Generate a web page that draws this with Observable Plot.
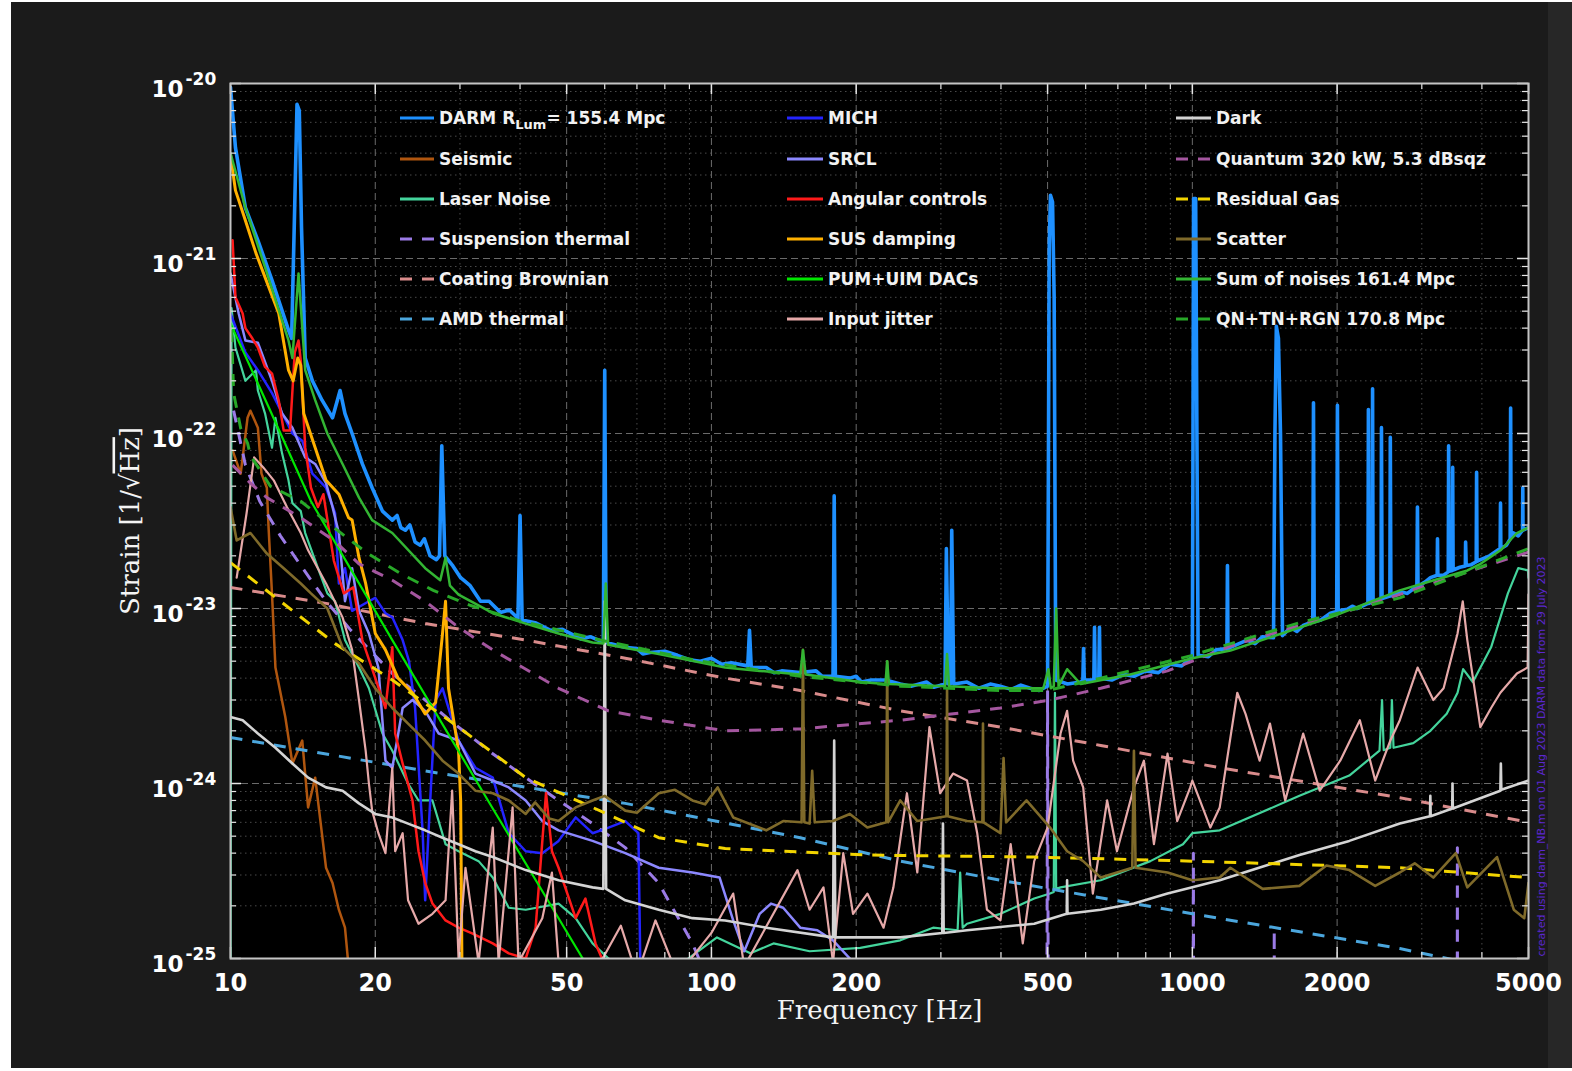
<!DOCTYPE html>
<html>
<head>
<meta charset="utf-8">
<script src="https://cdn.jsdelivr.net/npm/d3@7"></script>
<script src="https://cdn.jsdelivr.net/npm/@observablehq/plot@0.6"></script>
<style>
html,body{margin:0;padding:0;background:#ffffff;overflow:hidden;}
#wrap{position:relative;width:1572px;height:1071px;overflow:hidden;}
#bg{position:absolute;left:11px;top:2px;width:1537px;height:1066px;background:#1b1b1b;}
#bg2{position:absolute;left:1548px;top:2px;width:24px;height:1066px;background:#272727;}
#chart{position:absolute;left:0;top:0;}
</style>
</head>
<body>
<div id="wrap"><div id="bg"></div><div id="bg2"></div><div id="chart"></div></div>
<script>
// ---------------- DATA (frequency [Hz], strain [1/sqrt(Hz)]) ----------------
const darm = [[10,9.5e-21],[10.24,4.3e-21],[10.74,1.95e-21],[11.4,1.27e-21],[12.2,7.5e-22],[13.2,3.9e-22],[13.4,3.5e-22],[13.6,2.0e-21],[13.75,7.6e-21],[13.9,7.0e-21],[14.05,1.5e-21],[14.3,2.7e-22],[14.8,2.0e-22],[15.5,1.55e-22],[16.3,1.23e-22],[16.9,1.76e-22],[17.3,1.3e-22],[17.9,1.0e-22],[18.8,6.7e-23],[19.7,4.9e-23],[20.7,3.6e-23],[21.7,3.2e-23],[22.2,3.4e-23],[22.6,2.9e-23],[23.1,2.8e-23],[23.6,3.0e-23],[24.2,2.4e-23],[24.8,2.3e-23],[25.3,2.5e-23],[26,2.0e-23],[26.8,1.9e-23],[27.2,2.0e-23],[27.5,8.5e-23],[27.9,2.0e-23],[29,1.75e-23],[30.1,1.5e-23],[31.5,1.35e-23],[33.1,1.1e-23],[34.5,1.1e-23],[36.4,9.5e-24],[38,9.8e-24],[39.6,8.8e-24],[40,3.4e-23],[40.4,8.6e-24],[43,8.3e-24],[46.3,7.5e-24],[49,7.6e-24],[53.5,6.7e-24],[56,6.9e-24],[59.6,6.4e-24],[60,2.3e-22],[60.4,6.4e-24],[66,6.0e-24],[70,5.9e-24],[72,5.5e-24],[74.5,5.6e-24],[80,5.7e-24],[85,5.4e-24],[90,5.1e-24],[94.8,5.0e-24],[100,5.2e-24],[105,4.8e-24],[110,4.9e-24],[119,4.7e-24],[120,7.5e-24],[121,4.6e-24],[130,4.6e-24],[135,4.3e-24],[140,4.4e-24],[153,4.3e-24],[165,4.4e-24],[170,4.1e-24],[179,4.1e-24],[180,4.4e-23],[181,4.1e-24],[194,4.0e-24],[200,4.1e-24],[205,3.8e-24],[215,3.9e-24],[230,3.9e-24],[247,3.7e-24],[260,3.6e-24],[280,3.8e-24],[290,3.55e-24],[306,3.7e-24],[308,2.2e-23],[311,3.7e-24],[314,3.7e-24],[316,2.8e-23],[319,3.7e-24],[340,3.8e-24],[360,3.5e-24],[380,3.7e-24],[399,3.6e-24],[420,3.45e-24],[440,3.65e-24],[460,3.5e-24],[480,3.4e-24],[500,3.6e-24],[504,1.2e-21],[507,2.3e-21],[512,2.1e-21],[516,6e-22],[520,3.9e-24],[550,3.7e-24],[586,3.8e-24],[592,3.9e-24],[594,5.9e-24],[596,3.9e-24],[624,3.9e-24],[626,7.8e-24],[628,3.9e-24],[639,4.0e-24],[641,7.8e-24],[643,4.0e-24],[680,3.9e-24],[720,4.2e-24],[756,4.1e-24],[800,4.4e-24],[850,4.3e-24],[900,4.8e-24],[950,4.7e-24],[1000,5.3e-24],[1003,8e-23],[1006,2.2e-21],[1016,2.2e-21],[1022,1e-22],[1028,5.4e-24],[1080,5.3e-24],[1120,5.8e-24],[1180,5.9e-24],[1183,1.76e-23],[1186,5.9e-24],[1200,6.0e-24],[1300,6.6e-24],[1350,6.3e-24],[1400,6.9e-24],[1475,6.8e-24],[1485,1e-22],[1495,4.1e-22],[1510,3.5e-22],[1525,1e-22],[1540,7.0e-24],[1600,7.8e-24],[1650,7.4e-24],[1700,8.0e-24],[1780,8.4e-24],[1786,1.5e-22],[1792,8.4e-24],[1850,8.6e-24],[1936,9.4e-24],[1996,9.6e-24],[2003,1.45e-22],[2010,9.7e-24],[2100,9.9e-24],[2150,1.03e-23],[2200,1.0e-23],[2318,1.07e-23],[2323,1.37e-22],[2330,1.07e-23],[2365,1.09e-23],[2370,1.8e-22],[2376,1.1e-23],[2468,1.13e-23],[2473,1.08e-22],[2480,1.14e-23],[2575,1.18e-23],[2580,9.5e-23],[2587,1.18e-23],[2700,1.25e-23],[2800,1.22e-23],[2930,1.34e-23],[2938,3.8e-23],[2946,1.34e-23],[3050,1.42e-23],[3126,1.5e-23],[3229,1.55e-23],[3234,2.5e-23],[3240,1.55e-23],[3330,1.55e-23],[3405,1.62e-23],[3411,8.5e-23],[3418,1.63e-23],[3472,1.65e-23],[3478,6.4e-23],[3485,1.66e-23],[3600,1.72e-23],[3695,1.75e-23],[3700,2.4e-23],[3710,1.76e-23],[3800,1.78e-23],[3893,1.85e-23],[3900,6.0e-23],[3907,1.86e-23],[3975,1.9e-23],[4150,2.0e-23],[4365,2.2e-23],[4373,4.0e-23],[4380,2.2e-23],[4500,2.3e-23],[4580,2.5e-23],[4590,1.4e-22],[4600,2.55e-23],[4655,2.7e-23],[4760,2.6e-23],[4860,2.8e-23],[4865,4.9e-23],[4870,2.8e-23],[5000,2.9e-23]];

const seismic = [[10.1,8.0e-23],[10.5,5.9e-23],[10.85,1.23e-22],[11.0,1.35e-22],[11.4,1.08e-22],[11.6,5.9e-23],[11.9,4.9e-23],[12.0,2.9e-23],[12.2,1.2e-23],[12.4,4.6e-24],[13.0,2.4e-24],[13.45,1.3e-24],[14.1,1.76e-24],[14.5,7.3e-25],[15.0,1.08e-24],[15.8,3.3e-25],[16.3,2.7e-25],[16.8,1.9e-25],[17.3,1.5e-25],[17.6,9e-26]];

const laser = [[10,5e-26],[10.05,5.2e-22],[10.24,3.1e-22],[10.74,2.0e-22],[11.3,2.3e-22],[11.4,1.76e-22],[11.8,1.3e-22],[12.2,8.3e-23],[12.4,1.23e-22],[12.8,7.7e-23],[13.2,5.4e-23],[13.45,4.0e-23],[14.0,3.6e-23],[14.3,2.7e-23],[15.2,1.7e-23],[15.9,1.22e-23],[16.5,1.1e-23],[17.3,6.6e-24],[18.5,4.6e-24],[19.4,3.5e-24],[20.7,1.93e-24],[21.7,1.54e-24],[23.4,1.0e-24],[24.6,8.0e-25],[26.3,8.0e-25],[28.0,4.5e-25],[29.8,4.1e-25],[32.8,3.6e-25],[35.1,2.9e-25],[37.9,1.95e-25],[41.1,1.9e-25],[48.1,2.06e-25],[52.2,1.7e-25],[56.6,1.22e-25],[61.1,1.0e-25],[71.3,8.5e-26],[85,9e-26],[102.7,1.32e-25],[120.5,1.07e-25],[134.6,1.22e-25],[160,1.1e-25],[204,1.15e-25],[247,1.27e-25],[289,1.5e-25],[325,1.45e-25],[329,3.1e-25],[333,1.5e-25],[340,1.58e-25],[399,1.8e-25],[469,2.2e-25],[506,2.35e-25],[515,2.4e-25],[518,3.3e-24],[521,2.5e-25],[532,2.55e-25],[645,2.8e-25],[818,3.6e-25],[956,4.5e-25],[1000,5.2e-25],[1140,5.4e-25],[1670,8.5e-25],[2120,1.11e-24],[2450,1.54e-24],[2480,3.0e-24],[2500,1.55e-24],[2580,1.6e-24],[2600,3.0e-24],[2620,1.6e-24],[2880,1.7e-24],[3126,2.0e-24],[3380,2.5e-24],[3560,3.3e-24],[3656,4.5e-24],[3830,3.8e-24],[4180,6.0e-24],[4530,1.22e-23],[4760,1.7e-23],[4990,1.65e-23],[5000,1.5e-23]];

const suspThermal = [[10.15,1.35e-22],[10.74,6.6e-23],[11.5,4.1e-23],[12.7,2.6e-23],[14.0,1.76e-23],[15.8,1.1e-23],[17.8,7.5e-24],[21.7,4.25e-24],[25.4,3.0e-24],[29.8,2.1e-24],[35.1,1.48e-24],[41.1,1.08e-24],[48.1,8.0e-25],[56.6,5.9e-25],[66.2,4.3e-25],[77.7,2.7e-25],[91.3,1.22e-25],[99.5,7e-26],[110,1e-27],[497,1e-27],[500,3.4e-24],[503,1e-27],[1002,1e-27],[1005,4.0e-25],[1008,1e-27],[1477,1e-27],[1480,1.45e-25],[1483,1e-27],[3552,1e-27],[3557,4.3e-25],[3562,1e-27],[5000,1e-27]];

const coating = [[10,1.32e-23],[15.8,1.07e-23],[25.4,8.2e-24],[41.1,6.6e-24],[66.2,5.2e-24],[106.8,4.0e-24],[153,3.4e-24],[247,2.6e-24],[399,2.1e-24],[645,1.65e-24],[1140,1.23e-24],[2700,8.3e-25],[5000,6.0e-25]];

const amdThermal = [[10,1.83e-24],[25.4,1.18e-24],[66.2,7.7e-25],[153,4.9e-25],[247,3.6e-25],[399,2.8e-25],[1000,1.8e-25],[2700,1.14e-25],[5000,8e-26]];

const mich = [[10,4.85e-22],[10.74,2.9e-22],[11.4,2.3e-22],[12.2,1.7e-22],[13.45,1.0e-22],[14.1,9.1e-23],[14.8,5.9e-23],[15.8,4.9e-23],[16.5,3.5e-23],[16.8,1.39e-23],[17.3,1.7e-23],[17.9,9.7e-24],[19.4,1.1e-23],[20.0,1.15e-23],[21.0,9.4e-24],[21.7,8.9e-24],[22.8,6.6e-24],[23.5,5.0e-24],[24.2,2.7e-24],[25.1,5.2e-25],[25.4,2.15e-25],[25.8,5.2e-25],[26.7,3.0e-24],[27.6,3.5e-24],[28.9,2.3e-24],[29.8,1.76e-24],[32.3,1.23e-24],[35.1,1.08e-24],[37.9,5.2e-25],[41.1,4.1e-25],[44.5,4.0e-25],[48.1,4.7e-25],[52.2,6.4e-25],[56.6,5.2e-25],[61.1,5.6e-25],[66.2,6.1e-25],[70.5,5.2e-25],[71.3,6e-26]];

const srcl = [[10,8.2e-22],[10.4,4.85e-22],[10.74,3.4e-22],[11.4,3.3e-22],[12.2,2.0e-22],[12.8,1.3e-22],[13.45,1.08e-22],[14.3,7.3e-23],[15.0,6.7e-23],[15.8,5.2e-23],[16.3,3.8e-23],[16.8,2.7e-23],[17.3,1.1e-23],[17.9,1.7e-23],[18.5,9.7e-24],[19.4,7.2e-24],[20.3,4.6e-24],[21.0,1.35e-24],[21.7,1.23e-24],[22.8,2.7e-24],[23.9,3.0e-24],[25.4,2.6e-24],[27.1,1.93e-24],[29.8,1.76e-24],[32.3,1.14e-24],[35.1,1.04e-24],[37.9,9.5e-25],[41.1,8.0e-25],[44.5,6.1e-25],[48.1,5.4e-25],[56.6,4.7e-25],[66.2,4.0e-25],[77.7,3.3e-25],[91.3,3.1e-25],[104,2.9e-25],[111,1.65e-25],[117,1.1e-25],[126,1.8e-25],[133,2.06e-25],[141,1.95e-25],[153,1.5e-25],[166,1.45e-25],[179,1.27e-25],[194,1.0e-25],[214,8e-26]];

const angular = [[10.1,1.27e-21],[10.24,6.0e-22],[10.6,4.85e-22],[10.74,4.0e-22],[11.1,3.5e-22],[11.4,3.1e-22],[11.8,2.4e-22],[12.2,2.2e-22],[12.6,1.54e-22],[12.9,1.04e-22],[13.3,1.04e-22],[13.6,2.9e-22],[13.85,3.4e-22],[14.0,2.6e-22],[14.3,8.3e-23],[14.7,4.9e-23],[15.2,3.8e-23],[15.6,4.5e-23],[16.4,1.88e-23],[17.2,1.22e-23],[18.0,1.32e-23],[18.8,6.6e-24],[20.0,4.0e-24],[21.0,2.7e-24],[21.7,6.0e-24],[22.0,1.93e-24],[22.8,1.3e-24],[23.9,8.0e-25],[24.6,4.1e-25],[25.4,2.7e-25],[26.3,2.06e-25],[28.0,1.65e-25],[29.8,1.5e-25],[31.8,1.39e-25],[35.1,1.22e-25],[37.9,1.07e-25],[41.1,1.0e-25],[43.1,1.5e-25],[45.3,8.8e-25],[46.6,4.1e-25],[48.1,3.3e-25],[52.2,1.7e-25],[54.7,2.2e-25],[57.4,1.22e-25],[60.2,9e-26]];

const susDamping = [[10,3.9e-21],[10.24,2.45e-21],[10.74,1.65e-21],[11.3,1.07e-21],[11.8,7.8e-22],[12.6,4.85e-22],[13.2,2.3e-22],[13.5,2.0e-22],[13.8,2.7e-22],[14.0,2.45e-22],[14.2,1.3e-22],[15.0,8.3e-23],[15.8,5.4e-23],[16.8,4.5e-23],[17.6,3.3e-23],[17.9,3.2e-23],[18.5,1.95e-23],[19.1,1.39e-23],[20.0,7.2e-24],[21.0,5.8e-24],[22.3,4.0e-24],[23.9,3.3e-24],[25.4,2.5e-24],[26.7,2.9e-24],[27.6,7.2e-24],[28.0,1.1e-23],[28.4,3.5e-24],[29.8,1.54e-24],[30.1,8e-25],[30.3,8e-26]];

const pumUim = [[10,4.25e-22],[12.1,1.35e-22],[14.7,4.1e-23],[21.7,6.6e-24],[35.1,7.2e-25],[54.0,1.0e-25],[64.8,4.5e-26]];

const inputJitter = [[10.3,1.5e-23],[10.8,3.5e-23],[11.2,7.3e-23],[11.7,6.4e-23],[12.3,5.4e-23],[13.1,3.8e-23],[14.0,2.7e-23],[14.5,2.15e-23],[15.8,1.39e-23],[17.1,8.9e-24],[17.9,5.8e-24],[18.5,3.0e-24],[19.1,1.54e-24],[19.4,1.0e-24],[19.7,7.0e-25],[20.3,5.2e-25],[21.0,4.0e-25],[21.7,1.23e-24],[22.0,4.1e-25],[22.8,5.2e-25],[23.4,2.15e-25],[24.6,1.58e-25],[26.3,1.8e-25],[28.0,2.15e-25],[28.9,9.1e-25],[29.8,1.0e-25],[30.8,3.3e-25],[32.8,9.5e-26],[35.1,5.6e-25],[36.1,9.5e-26],[38.6,7.3e-25],[39.7,9.5e-26],[44.5,1.7e-25],[46.6,3.1e-25],[48.1,9.5e-26],[58.8,9.5e-26],[64.8,1.54e-25],[70,8e-26],[76.5,1.65e-25],[85,8e-26],[100,1.4e-25],[111,2.35e-25],[117,9e-26],[151,3.2e-25],[160,1.9e-25],[171,2.55e-25],[179,9.5e-26],[188,4.0e-25],[197,1.8e-25],[211,2.35e-25],[228,1.5e-25],[239,2.55e-25],[255,8.8e-25],[268,3.1e-25],[284,2.1e-24],[299,8.8e-25],[318,1.14e-24],[340,1.04e-24],[357,5.2e-25],[374,1.9e-25],[399,1.65e-25],[419,4.5e-25],[444,1.22e-25],[469,3.6e-25],[500,5.6e-25],[532,1.93e-24],[549,2.6e-24],[565,1.35e-24],[593,9.5e-25],[621,2.35e-25],[665,8.0e-25],[697,4.1e-25],[756,9.5e-25],[793,1.35e-24],[832,4.5e-25],[888,1.48e-24],[930,6.1e-25],[990,9.5e-25],[1000,1.04e-24],[1090,5.6e-25],[1140,7.3e-25],[1240,3.3e-24],[1290,2.5e-24],[1380,1.35e-24],[1450,2.2e-24],[1560,8.0e-25],[1700,1.93e-24],[1840,9.1e-25],[2030,1.35e-24],[2230,2.3e-24],[2400,1.04e-24],[2580,1.76e-24],[2700,2.3e-24],[2940,4.6e-24],[3170,3.0e-24],[3330,3.5e-24],[3560,7.2e-24],[3650,1.1e-23],[3730,6.6e-24],[3970,2.1e-24],[4180,2.7e-24],[4370,3.3e-24],[4730,4.25e-24],[4980,4.6e-24],[5000,1.2e-23]];

const dark = [[10,2.4e-24],[10.6,2.3e-24],[11.4,1.93e-24],[12.4,1.6e-24],[13.45,1.3e-24],[14.5,1.08e-24],[15.8,9.5e-25],[17.1,9.1e-25],[18.5,7.7e-25],[20.0,6.7e-25],[21.7,6.4e-25],[23.4,5.9e-25],[25.4,5.4e-25],[27.6,4.9e-25],[29.8,4.5e-25],[32.3,4.1e-25],[35.1,3.8e-25],[41.1,3.2e-25],[48.1,2.8e-25],[56.6,2.55e-25],[59.6,2.5e-25],[60,1.1e-23],[60.4,2.5e-25],[66.2,2.15e-25],[77.7,1.9e-25],[91.3,1.7e-25],[106.8,1.65e-25],[130,1.5e-25],[179,1.32e-25],[180,1.76e-24],[181,1.32e-25],[247,1.32e-25],[302,1.4e-25],[303,5.9e-25],[304,1.4e-25],[340,1.45e-25],[469,1.58e-25],[548,1.8e-25],[549,2.8e-25],[550,1.8e-25],[645,1.9e-25],[756,2.06e-25],[888,2.35e-25],[1000,2.55e-25],[1140,2.8e-25],[1670,3.9e-25],[2120,4.7e-25],[2700,5.9e-25],[3120,6.5e-25],[3125,8.5e-25],[3130,6.5e-25],[3470,7.2e-25],[3475,1.0e-24],[3480,7.2e-25],[4370,9.1e-25],[4380,1.3e-24],[4390,9.2e-25],[5000,1.04e-24]];

const quantum = [[10.1,6.6e-23],[11.0,5.2e-23],[11.9,4.3e-23],[14.0,3.3e-23],[16.4,2.45e-23],[18.5,1.8e-23],[21.7,1.45e-23],[25.4,1.1e-23],[29.8,7.8e-24],[35.1,5.8e-24],[48.1,3.5e-24],[61.1,2.6e-24],[77.7,2.3e-24],[106.8,2.0e-24],[153,2.05e-24],[247,2.3e-24],[399,2.7e-24],[506,3.0e-24],[645,3.5e-24],[888,4.4e-24],[1200,6.1e-24],[1670,8.0e-24],[2450,1.1e-23],[3430,1.5e-23],[5000,2.1e-23]];

const residualGas = [[10,1.83e-23],[16.5,6.3e-24],[21.7,3.9e-24],[29.8,2.1e-24],[41.1,1.08e-24],[56.6,7.3e-25],[77.7,4.9e-25],[106.8,4.25e-25],[211,3.9e-25],[469,3.8e-25],[1000,3.6e-25],[2700,3.3e-25],[5000,2.9e-25]];

const scatter = [[10,3.8e-23],[10.3,2.45e-23],[11.0,2.7e-23],[11.9,2.06e-23],[12.9,1.7e-23],[14.0,1.39e-23],[14.7,1.22e-23],[15.9,1.0e-23],[17.1,6.0e-24],[18.5,4.85e-24],[20.0,3.5e-24],[21.7,2.7e-24],[23.4,2.2e-24],[25.4,1.76e-24],[27.6,1.35e-24],[29.8,1.14e-24],[32.3,9.1e-25],[35.1,8.8e-25],[37.9,8.0e-25],[41.1,6.7e-25],[43,7.8e-25],[44.5,7.0e-25],[46,6.3e-25],[48.1,6.1e-25],[52.2,7.3e-25],[56.6,8.0e-25],[60,8.5e-25],[66.2,7.0e-25],[70,6.8e-25],[77.7,8.8e-25],[84,9.2e-25],[91.3,8.0e-25],[97,7.6e-25],[103,9.5e-25],[111,6.4e-25],[130,5.4e-25],[141,6.1e-25],[154,6e-25],[155,5.8e-24],[156,6e-25],[160,5.9e-25],[162,1.18e-24],[164,6.0e-25],[179,6.1e-25],[194,6.7e-25],[211,5.6e-25],[231,6e-25],[232,5.0e-24],[233,6e-25],[247,8.0e-25],[268,6.1e-25],[308,6.5e-25],[309,3.5e-24],[310,6.5e-25],[340,6.1e-25],[366,6e-25],[367,2.2e-24],[368,6e-25],[399,5.2e-25],[405,1.4e-24],[410,6e-25],[452,8.0e-25],[506,5.6e-25],[549,4.1e-25],[593,3.6e-25],[645,2.9e-25],[750,3.3e-25],[756,1.54e-24],[762,3.3e-25],[888,3.1e-25],[1000,2.8e-25],[1140,2.9e-25],[1200,3.3e-25],[1400,2.5e-25],[1670,2.6e-25],[1900,3.4e-25],[2120,3.2e-25],[2400,2.6e-25],[2700,3.1e-25],[2900,3.5e-25],[3170,2.9e-25],[3530,4.0e-25],[3730,2.55e-25],[4300,3.8e-25],[4660,1.9e-25],[4900,1.7e-25],[5000,2.7e-25]];

const sumNoises = [[10,4.0e-21],[10.74,1.95e-21],[11.8,8.9e-22],[13.2,3.4e-22],[13.45,2.7e-22],[13.85,8.2e-22],[14.3,2.3e-22],[15.0,1.55e-22],[15.9,1.0e-22],[17.1,6.7e-23],[18.5,4.3e-23],[19.7,3.2e-23],[21.7,2.7e-23],[25.4,1.7e-23],[27.3,1.45e-23],[28.0,1.95e-23],[28.6,1.35e-23],[29.8,1.2e-23],[35.1,9.4e-24],[41.1,8.2e-24],[48.1,7.2e-24],[56.6,6.4e-24],[59.6,6.3e-24],[60.3,1.39e-23],[61,6.2e-24],[77.7,5.5e-24],[106.8,4.6e-24],[126,4.4e-24],[153,4.2e-24],[155,5.8e-24],[157,4.2e-24],[204,3.8e-24],[230,3.7e-24],[232,5.0e-24],[234,3.7e-24],[306,3.6e-24],[309,5.5e-24],[312,3.6e-24],[386,3.5e-24],[490,3.5e-24],[502,4.5e-24],[508,3.5e-24],[515,3.6e-24],[521,1.0e-23],[527,3.6e-24],[549,4.5e-24],[586,3.7e-24],[743,4.2e-24],[1000,5.2e-24],[1200,5.75e-24],[1936,8.9e-24],[2700,1.27e-23],[3126,1.43e-23],[3733,1.65e-23],[3975,1.8e-23],[4373,2.15e-23],[4730,2.7e-23],[5000,2.9e-23]];

const qnTnRgn = [[10.05,3.9e-22],[10.15,1.7e-22],[10.5,1.07e-22],[10.85,8.8e-23],[11.0,7.5e-23],[12.1,5.0e-23],[14.0,4.1e-23],[16.4,2.9e-23],[19.3,2.06e-23],[22.6,1.58e-23],[26.4,1.27e-23],[31.6,1.04e-23],[40,8.5e-24],[58.8,6.6e-24],[94.8,5.0e-24],[153,4.1e-24],[247,3.6e-24],[399,3.4e-24],[500,3.4e-24],[645,4.0e-24],[1000,5.4e-24],[1670,8.3e-24],[2700,1.15e-23],[5000,2.2e-23]];

// ticks
const xTicks = [10,20,50,100,200,500,1000,2000,5000];
const xTickLabels = ["10","20","50","100","200","500","1000","2000","5000"];
const xMinor = [30,40,60,70,80,90,300,400,600,700,800,900,3000,4000];
const yTicks = [1e-25,1e-24,1e-23,1e-22,1e-21,1e-20];
const yTickExps = ["-25","-24","-23","-22","-21","-20"];

// legend columns (series labels)
const legendCols = [
  ["DARM","Seismic","Laser Noise","Suspension thermal","Coating Brownian","AMD thermal"],
  ["MICH","SRCL","Angular controls","SUS damping","PUM+UIM DACs","Input jitter"],
  ["Dark","Quantum 320 kW, 5.3 dBsqz","Residual Gas","Scatter","Sum of noises 161.4 Mpc","QN+TN+RGN 170.8 Mpc"]
];

// ---------------- STYLES ----------------
const DASH = "12,10";
const series = [
  {label:"DARM", data:darm, color:"#1e90ff", width:3.6},
  {label:"Seismic", data:seismic, color:"#b0560f", width:2.5},
  {label:"Laser Noise", data:laser, color:"#44d49c", width:2.2},
  {label:"Suspension thermal", data:suspThermal, color:"#9b7be6", width:3, dash:DASH},
  {label:"Coating Brownian", data:coating, color:"#d98b8b", width:3, dash:DASH},
  {label:"AMD thermal", data:amdThermal, color:"#4ba6dd", width:3, dash:DASH},
  {label:"MICH", data:mich, color:"#2424ff", width:2.5},
  {label:"SRCL", data:srcl, color:"#8c88ff", width:2.5},
  {label:"Angular controls", data:angular, color:"#ff1a1a", width:2.5},
  {label:"SUS damping", data:susDamping, color:"#ffb000", width:3},
  {label:"PUM+UIM DACs", data:pumUim, color:"#00e600", width:2.2},
  {label:"Input jitter", data:inputJitter, color:"#e6a9a9", width:2.2},
  {label:"Dark", data:dark, color:"#d4d4d4", width:2.6},
  {label:"Quantum 320 kW, 5.3 dBsqz", data:quantum, color:"#a4569f", width:3, dash:DASH},
  {label:"Residual Gas", data:residualGas, color:"#f2d400", width:3, dash:DASH},
  {label:"Scatter", data:scatter, color:"#7f6a2a", width:2.6},
  {label:"Sum of noises 161.4 Mpc", data:sumNoises, color:"#33b533", width:2.5},
  {label:"QN+TN+RGN 170.8 Mpc", data:qnTnRgn, color:"#28a828", width:3, dash:DASH}
];
const byLabel = Object.fromEntries(series.map(s => [s.label, s]));

const W = 1572, H = 1071, mL = 230, mR = 44, mT = 83, mB = 113;
const plotW = W - mL - mR, plotH = H - mT - mB;

const yMinor = [];
for (let e = -25; e < -20; e++) for (let m = 2; m <= 9; m++) yMinor.push(m * Math.pow(10, e));

const rows = d => d.map(([f, v]) => ({f, v}));
const lineMarks = series.map(s => Plot.line(rows(s.data), {
  x: "f", y: "v", stroke: s.color, strokeWidth: s.width,
  strokeDasharray: s.dash, strokeLinejoin: "round", strokeLinecap: s.dash ? "butt" : "round", clip: true
}));

const tickColor = "#e6e6e6";
const chart = Plot.plot({
  width: W, height: H,
  marginLeft: mL, marginRight: mR, marginTop: mT, marginBottom: mB,
  x: {type: "log", domain: [10, 5000], axis: null},
  y: {type: "log", domain: [1e-25, 1e-20], axis: null},
  style: {background: "transparent", fontFamily: "DejaVu Sans", color: "#fff", overflow: "visible"},
  marks: [
    Plot.frame({fill: "#000"}),
    Plot.ruleY(yMinor, {stroke: "#4a4a4a", strokeDasharray: "1.5,3.5"}),
    Plot.ruleX(xMinor, {stroke: "#4a4a4a", strokeDasharray: "1.5,3.5"}),
    Plot.ruleY(yTicks, {stroke: "#6a6a6a", strokeDasharray: "7,4"}),
    Plot.ruleX(xTicks, {stroke: "#6a6a6a", strokeDasharray: "7,4"}),
    ...lineMarks,
    // inward ticks
    Plot.tickY(yTicks, {y: d => d, stroke: tickColor, strokeWidth: 1.5, insetRight: plotW - 11}),
    Plot.tickY(yTicks, {y: d => d, stroke: tickColor, strokeWidth: 1.5, insetLeft: plotW - 11}),
    Plot.tickY(yMinor, {y: d => d, stroke: tickColor, strokeWidth: 1.2, insetRight: plotW - 6}),
    Plot.tickY(yMinor, {y: d => d, stroke: tickColor, strokeWidth: 1.2, insetLeft: plotW - 6}),
    Plot.tickX(xTicks, {x: d => d, stroke: tickColor, strokeWidth: 1.5, insetTop: plotH - 11}),
    Plot.tickX(xTicks, {x: d => d, stroke: tickColor, strokeWidth: 1.5, insetBottom: plotH - 11}),
    Plot.tickX(xMinor, {x: d => d, stroke: tickColor, strokeWidth: 1.2, insetTop: plotH - 6}),
    Plot.tickX(xMinor, {x: d => d, stroke: tickColor, strokeWidth: 1.2, insetBottom: plotH - 6}),
    Plot.frame({stroke: "#c4c4c4", strokeWidth: 2}),
    // tick labels
    Plot.text(xTicks, {x: d => d, y: () => 1e-25, text: (d, i) => xTickLabels[i], dy: 32, lineAnchor: "bottom",
      textAnchor: "middle", fontSize: 24, fontWeight: "bold", fill: "#ffffff"}),
    Plot.text(yTicks, {x: () => 10, y: d => d, text: () => "10", textAnchor: "end", lineAnchor: "bottom",
      dx: -47, dy: 13, fontSize: 23, fontWeight: "bold", fill: "#ffffff"}),
    Plot.text(yTicks, {x: () => 10, y: d => d, text: (d, i) => yTickExps[i], textAnchor: "start", lineAnchor: "bottom",
      dx: -45, dy: 1, fontSize: 17, fontWeight: "bold", fill: "#ffffff"}),
    // axis titles
    Plot.text(["Frequency [Hz]"], {frameAnchor: "bottom", text: d => d, dy: 60, lineAnchor: "bottom",
      textAnchor: "middle", fontFamily: "DejaVu Serif", fontSize: 26, fill: "#f4f4f4"}),
    Plot.text(["Strain [1/√Hz]"], {frameAnchor: "left", text: d => d, rotate: -90, dx: -92, lineAnchor: "bottom",
      textAnchor: "middle", fontFamily: "DejaVu Serif", fontSize: 26, fill: "#f4f4f4"}),
    Plot.text(["created using darm_NB.m on 01 Aug 2023 DARM data from 29 July 2023"], {frameAnchor: "bottom-right",
      text: d => d, rotate: -90, textAnchor: "start", lineAnchor: "bottom", dx: 16, dy: -2,
      fontSize: 11, fill: "#5b27cf"})
  ]
});

document.getElementById("chart").appendChild(chart);
const svgEl = chart.tagName.toLowerCase() === "svg" ? chart : chart.querySelector("svg");
const svg = d3.select(svgEl);

// overline over Hz in y-axis title
svg.selectAll("text").filter(function() { return this.textContent === "Strain [1/√Hz]"; }).each(function() {
  const t = d3.select(this);
  t.text(null);
  t.append("tspan").text("Strain [1/√");
  t.append("tspan").attr("text-decoration", "overline").text("Hz");
  t.append("tspan").text("]");
});

// ---------------- LEGEND ----------------
const colGeom = [{x1: 400, x2: 434, tx: 439}, {x1: 787, x2: 823, tx: 828}, {x1: 1176, x2: 1211, tx: 1216}];
const rowY = [118, 159, 199, 239, 279, 319];
const lg = svg.append("g").attr("font-family", "DejaVu Sans").attr("font-weight", "bold")
  .attr("font-size", 17).attr("fill", "#f2f2f2").attr("text-anchor", "start");
legendCols.forEach((col, ci) => {
  const g = colGeom[ci];
  col.forEach((name, ri) => {
    const s = byLabel[name];
    const y = rowY[ri];
    lg.append("line").attr("x1", g.x1).attr("x2", g.x2).attr("y1", y).attr("y2", y)
      .attr("stroke", s.color).attr("stroke-width", 3)
      .attr("stroke-dasharray", s.dash ? DASH : null);
    const t = lg.append("text").attr("x", g.tx).attr("y", y + 6).attr("text-anchor", "start");
    if (name === "DARM") {
      t.append("tspan").text("DARM R");
      t.append("tspan").attr("font-size", 13).attr("dy", 5).text("Lum");
      t.append("tspan").attr("dy", -5).text("= 155.4 Mpc");
    } else {
      t.text(name);
    }
  });
});
</script>
</body>
</html>
